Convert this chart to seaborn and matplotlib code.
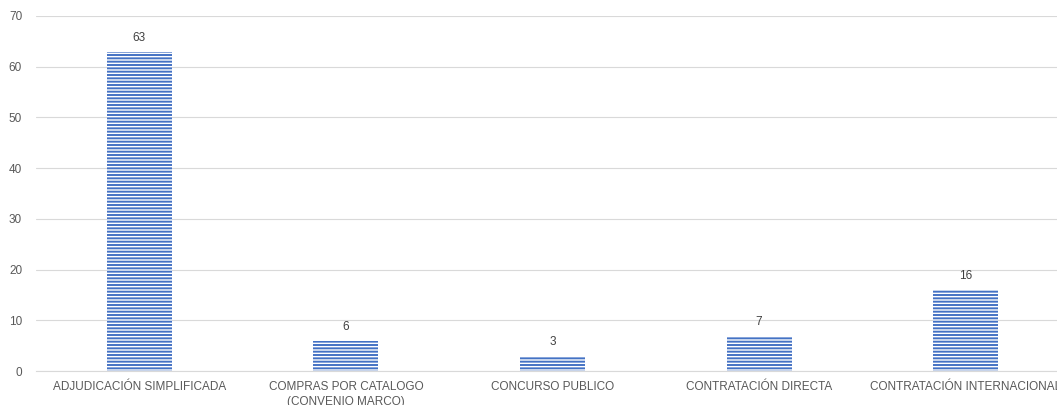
import matplotlib
matplotlib.use("Agg")
import matplotlib.pyplot as plt
import seaborn as sns
import pandas as pd

categories = ["ADJUDICACIÓN SIMPLIFICADA", "COMPRAS POR CATALOGO\n(CONVENIO MARCO)",
              "CONCURSO PUBLICO", "CONTRATACIÓN DIRECTA", "CONTRATACIÓN INTERNACIONAL"]
values = [63, 6, 3, 7, 16]
yticks = [0, 10, 20, 30, 40, 50, 60, 70]

sns.set_theme(style="white")
plt.rcParams['font.family'] = ['Liberation Sans', 'DejaVu Sans']
plt.rcParams['hatch.linewidth'] = 1.4

BLUE = "#4472C4"
df = pd.DataFrame({"cat": categories, "val": values})

fig = plt.figure(figsize=(10.57, 4.05), dpi=100)
ax = fig.add_axes([36/1057, 34/405, 1033/1057, 355/405])
sns.barplot(data=df, x="cat", y="val", ax=ax, width=0.315, color="white")
for p in ax.patches:
    p.set_facecolor("white")
    p.set_edgecolor(BLUE)
    p.set_hatch("-----")
    p.set_linewidth(0)

ax.set_ylim(0, 70)
ax.set_xlim(-0.5, 4.5)
ax.set_yticks(yticks)
ax.yaxis.grid(True, color="#D9D9D9", linewidth=0.8)
ax.set_axisbelow(True)
for s in ["top", "right", "left"]:
    ax.spines[s].set_visible(False)
ax.spines["bottom"].set_color("#D9D9D9")
ax.spines["bottom"].set_linewidth(0.8)
ax.tick_params(axis="both", length=0, colors="#595959", labelsize=8.5)
ax.tick_params(axis="x", pad=7.5)
ax.tick_params(axis="y", pad=10)
for lbl in ax.get_xticklabels():
    lbl.set_linespacing(1.3)
ax.set_xlabel("")
ax.set_ylabel("")

for i, v in enumerate(values):
    ax.annotate(f"{v}", (i, v), xytext=(0, 5.5), textcoords="offset points",
                ha="center", va="bottom", fontsize=8.5, color="#404040")

fig.savefig("out.png", dpi=100)
